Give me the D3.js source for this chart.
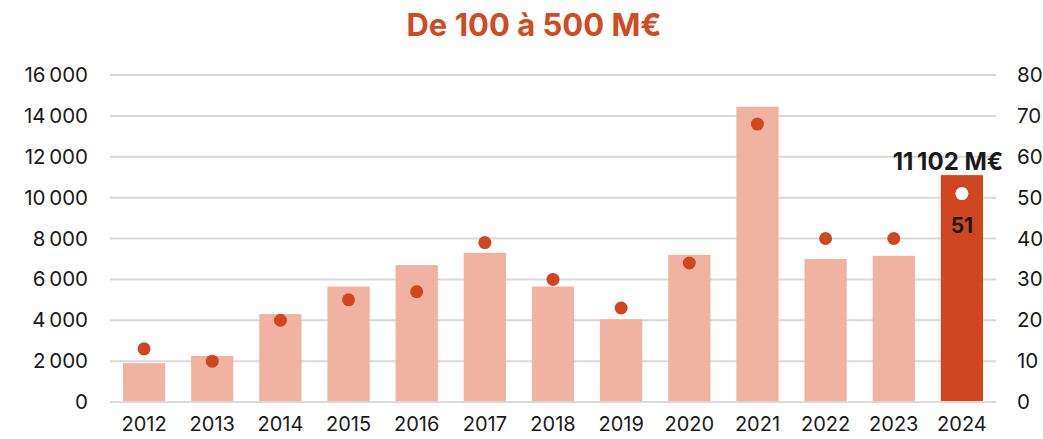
<!DOCTYPE html>
<html>
<head>
<meta charset="utf-8">
<script src="https://cdn.jsdelivr.net/npm/d3@7"></script>
<style>
  body { margin: 0; background: #fff; }
  svg { display: block; font-family: "Inter", "Open Sans", sans-serif; }
</style>
</head>
<body>
<div id="chart"></div>
<script>
// Data
const years = ['2012', '2013', '2014', '2015', '2016', '2017', '2018', '2019', '2020', '2021', '2022', '2023', '2024'];
const amounts = [1900, 2250, 4300, 5650, 6700, 7300, 5650, 4050, 7200, 14450, 7000, 7150, 11102]; // M€
const counts = [13, 10, 20, 25, 27, 39, 30, 23, 34, 68, 40, 40, 51];
const leftTicks = [0, 2000, 4000, 6000, 8000, 10000, 12000, 14000, 16000];
const rightTicks = [0, 10, 20, 30, 40, 50, 60, 70, 80];

const width = 1043, height = 439;
const margin = { top: 75, right: 47, bottom: 37, left: 110 };

const fr = d3.formatLocale({ decimal: ',', thousands: '\u202f', grouping: [3], currency: ['', ' €'] });
const fmt = fr.format(',d');

const svg = d3.select('#chart').append('svg')
    .attr('width', width)
    .attr('height', height);

// Title
svg.append('text')
    .attr('x', 534)
    .attr('y', 36)
    .attr('text-anchor', 'middle')
    .attr('fill', '#d04a22')
    .attr('font-size', 31)
    .attr('font-weight', 700)
    .text('De 100 à 500 M€');

// -------- Scales --------
const x = d3.scaleBand()
    .domain(years)
    .range([margin.left, width - margin.right])
    .paddingInner(0.38)
    .paddingOuter(0.19);

const y = d3.scaleLinear()
    .domain([0, 16000])
    .range([height - margin.bottom, margin.top]);

const y2 = d3.scaleLinear()
    .domain([0, 80])
    .range([height - margin.bottom, margin.top]);

// -------- Grid --------
svg.append('g')
    .selectAll('line')
    .data(leftTicks)
    .join('line')
    .attr('x1', margin.left)
    .attr('x2', width - margin.right)
    .attr('y1', d => y(d))
    .attr('y2', d => y(d))
    .attr('stroke', '#d9d9d9')
    .attr('stroke-width', 2);

const axisFont = 20.5;

// -------- Left axis --------
const yAxis = svg.append('g')
    .attr('transform', `translate(${margin.left - 22},0)`)
    .call(d3.axisLeft(y).tickValues(leftTicks).tickSize(0).tickPadding(0).tickFormat(fmt));
yAxis.select('.domain').remove();
yAxis.selectAll('text').attr('font-size', axisFont).attr('fill', '#1a1a1a').attr('font-family', 'Inter, sans-serif');

// -------- Right axis --------
const y2Axis = svg.append('g')
    .attr('transform', `translate(${width - margin.right + 21},0)`)
    .call(d3.axisRight(y2).tickValues(rightTicks).tickSize(0).tickPadding(0));
y2Axis.select('.domain').remove();
y2Axis.selectAll('text').attr('font-size', axisFont).attr('fill', '#1a1a1a').attr('font-family', 'Inter, sans-serif');

// -------- X axis --------
const xAxis = svg.append('g')
    .attr('transform', `translate(0,${height - margin.bottom + 15})`)
    .call(d3.axisBottom(x).tickSize(0).tickPadding(0));
xAxis.select('.domain').remove();
xAxis.selectAll('text').attr('font-size', 20).attr('fill', '#1a1a1a').attr('font-family', 'Inter, sans-serif');

// -------- Bars --------
const last = years[years.length - 1];
svg.append('g')
    .selectAll('rect')
    .data(years)
    .join('rect')
    .attr('x', d => x(d))
    .attr('y', (d, i) => y(amounts[i]))
    .attr('width', x.bandwidth())
    .attr('height', (d, i) => y(0) - y(amounts[i]) - 1)
    .attr('fill', d => d === last ? '#d04620' : '#f0b3a2');

// -------- Dots --------
svg.append('g')
    .selectAll('circle')
    .data(years)
    .join('circle')
    .attr('cx', d => x(d) + x.bandwidth() / 2)
    .attr('cy', (d, i) => y2(counts[i]))
    .attr('r', 6.5)
    .attr('fill', d => d === last ? '#fff' : '#d04620');

// -------- Labels for last year --------
const li = years.length - 1;
svg.append('text')
    .attr('x', x(last) + x.bandwidth() / 2 - 14)
    .attr('y', y(amounts[li]) - 5)
    .attr('text-anchor', 'middle')
    .attr('font-size', 24)
    .attr('font-weight', 700)
    .attr('fill', '#1a1a1a')
    .text(`${fmt(amounts[li])} M€`);

svg.append('text')
    .attr('x', x(last) + x.bandwidth() / 2)
    .attr('y', y2(counts[li]) + 39)
    .attr('text-anchor', 'middle')
    .attr('font-size', 21)
    .attr('font-weight', 700)
    .attr('fill', '#1a1a1a')
    .text(counts[li]);
</script>
</body>
</html>
